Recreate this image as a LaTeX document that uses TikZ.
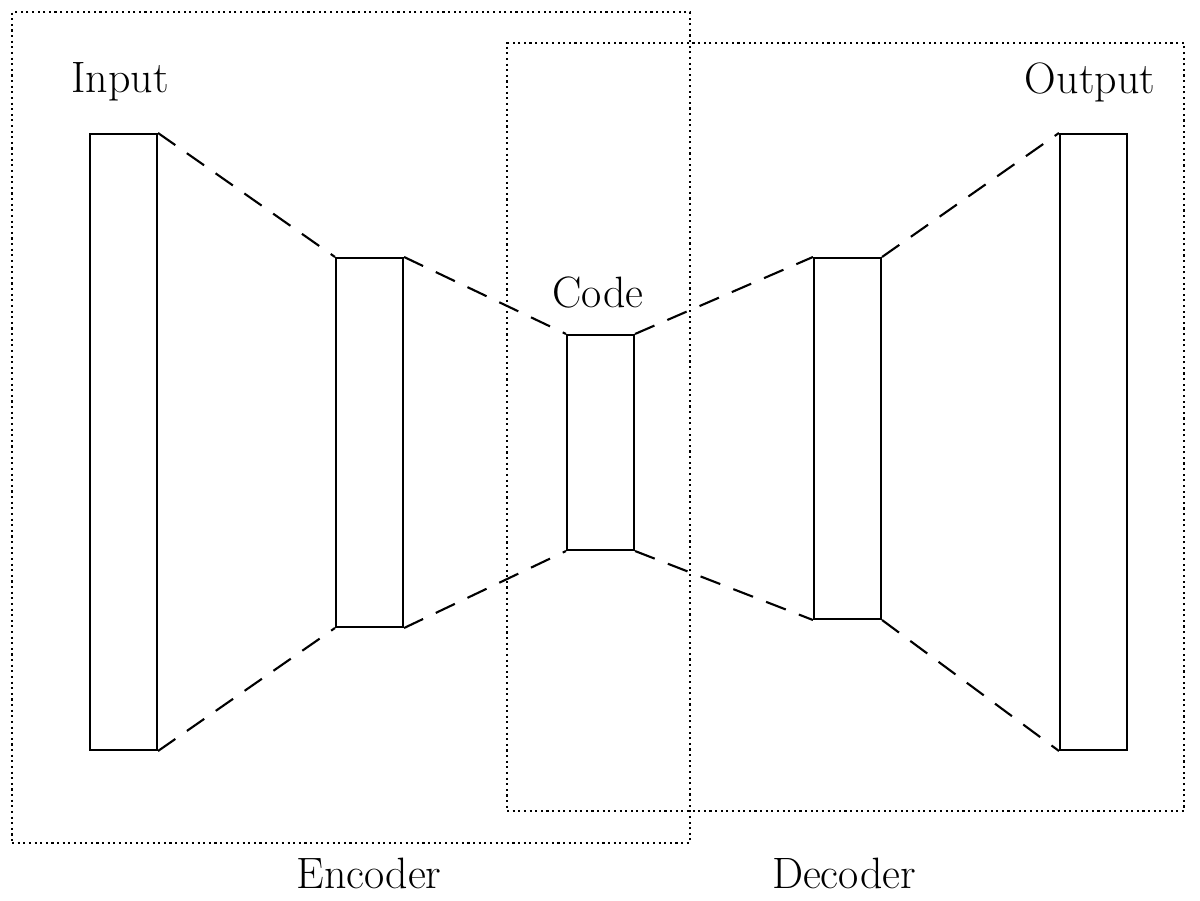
\documentclass[tikz,border=0pt]{standalone}
\begin{document}
\begin{tikzpicture}[x=0.02cm,y=-0.02cm,
  layer/.style={draw,line width=1.2pt,inner sep=0,minimum width=1.34cm},
  conn/.style={dashed,line width=1.2pt,dash pattern=on 12pt off 8pt},
  region/.style={draw,dotted,line width=1.2pt},
  lbl/.style={font=\fontsize{25}{30}\selectfont}]
\useasboundingbox (0,0) rectangle (1200,901);
\node[region,minimum width=13.56cm,minimum height=16.62cm,inner sep=0] (enc) at (351,427.5) {};
\node[region,minimum width=13.54cm,minimum height=15.36cm,inner sep=0] (dec) at (845.5,427) {};
\node[layer,minimum height=12.32cm] (in) at (123.5,442) {};
\node[layer,minimum height=7.38cm] (h1) at (369.5,442.5) {};
\node[layer,minimum height=4.3cm] (code) at (600.5,442.5) {};
\node[layer,minimum height=7.22cm] (h2) at (847.5,438.5) {};
\node[layer,minimum height=12.32cm] (out) at (1093.5,442) {};
\node[lbl] (tin) at (120,82) {Input};
\node[lbl] (tout) at (1090,82) {Output};
\node[lbl] (tcode) at (598,293) {Code};
\node[lbl] (tenc) at (369,873) {Encoder};
\node[lbl] (tdec) at (844,873) {Decoder};
\draw[conn] (in.north east) -- (h1.north west);
\draw[conn] (in.south east) -- (h1.south west);
\draw[conn] (h1.north east) -- (code.north west);
\draw[conn] (h1.south east) -- (code.south west);
\draw[conn] (code.north east) -- (h2.north west);
\draw[conn] (code.south east) -- (h2.south west);
\draw[conn] (h2.north east) -- (out.north west);
\draw[conn] (h2.south east) -- (out.south west);
\end{tikzpicture}
\end{document}
